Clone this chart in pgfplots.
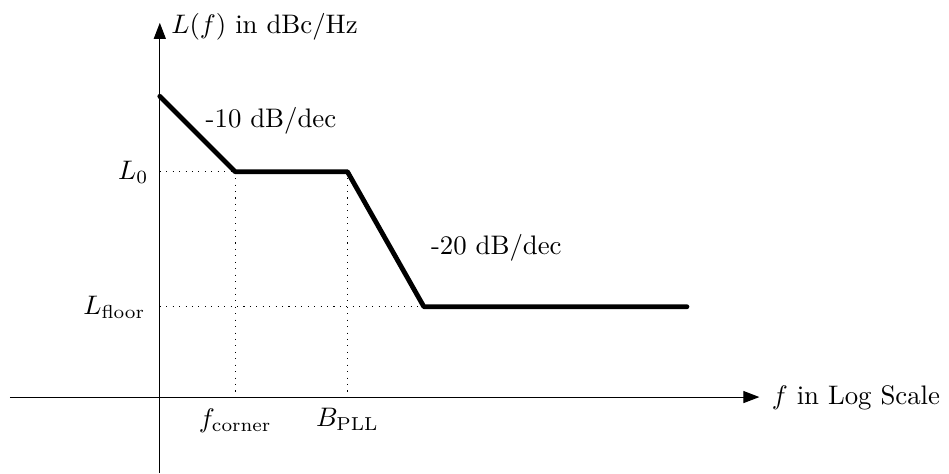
\documentclass[border=0pt]{standalone}
\usepackage{pgfplots}
\pgfplotsset{compat=1.18}
\usetikzlibrary{arrows.meta}
\begin{document}
\begin{tikzpicture}
	\begin{axis}[x=0.37037pt, y=0.37037pt, axis lines=middle, xmin=-151, xmax=604, ymin=-76, ymax=377,
		enlargelimits=false, xtick=\empty, ytick=\empty, clip=false,
		axis line style={-{Triangle[length=6pt,width=4.5pt]}}]

	% phase noise asymptote
	\addplot[black, line width=1.8pt, line cap=round, line join=round] coordinates {(0,303) (76,227) (189,227) (266,91) (531,91)};

	% guides
	\addplot[black, dotted] coordinates {(0,227) (76,227)};
	\addplot[black, dotted] coordinates {(76,227) (76,0)};
	\addplot[black, dotted] coordinates {(189,227) (189,0)};
	\addplot[black, dotted] coordinates {(0,91) (266,91)};

	\node[anchor=west] at (axis cs:2,373) {$L(f)$ in dBc/Hz};
	\node[anchor=west] at (axis cs:607,-1) {$f$ in Log Scale};
	\node[anchor=east] at (axis cs:-2,226) {$L_0$};
	\node[anchor=east] at (axis cs:-5,90) {$L_{\mathrm{floor}}$};
	\node[anchor=north] at (axis cs:76,-2) {$f_{\mathrm{corner}}$};
	\node[anchor=north] at (axis cs:189,-2) {$B_{\mathrm{PLL}}$};
	\node at (axis cs:112,278) {-10 dB/dec};
	\node at (axis cs:339,150) {-20 dB/dec};

	\path (axis cs:-161,-76) rectangle (axis cs:788,400);
	\end{axis}
\end{tikzpicture}
\end{document}
